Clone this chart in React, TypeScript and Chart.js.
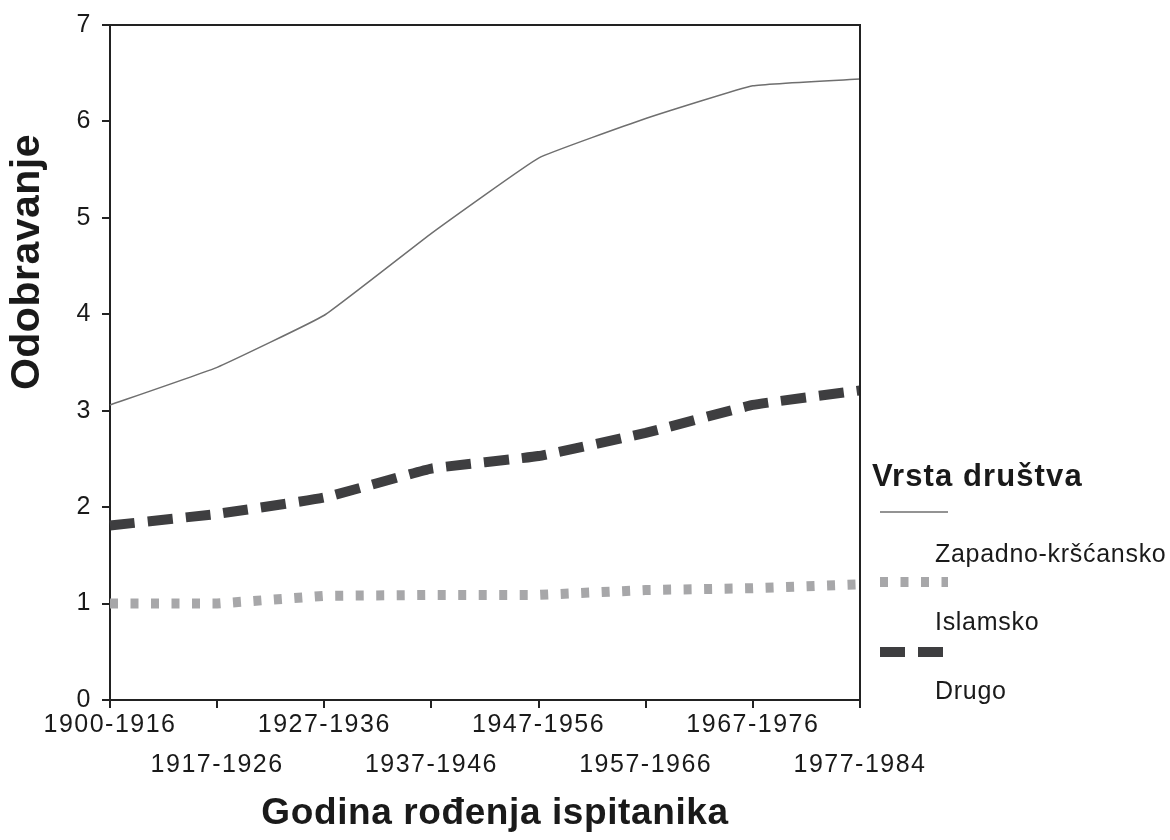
import React, { useEffect, useRef } from "react";
import { Chart, registerables } from "chart.js";

Chart.register(...registerables);

const categories = [
  "1900-1916",
  "1917-1926",
  "1927-1936",
  "1937-1946",
  "1947-1956",
  "1957-1966",
  "1967-1976",
  "1977-1984",
];

const zapadnoValues = [3.06, 3.45, 3.99, 4.84, 5.62, 6.03, 6.37, 6.44];
const drugoValues = [1.81, 1.93, 2.1, 2.4, 2.53, 2.77, 3.06, 3.21];
const islamskoValues = [1.0, 1.0, 1.08, 1.09, 1.09, 1.14, 1.16, 1.2];

const yTicks = [0, 1, 2, 3, 4, 5, 6, 7];

const legendTitle = "Vrsta društva";
const legendLabels = ["Zapadno-kršćansko", "Islamsko", "Drugo"];
const xTitle = "Godina rođenja ispitanika";
const yTitle = "Odobravanje";

const FONT = "'Liberation Sans', Arial, Helvetica, sans-serif";

const THIN = { color: "#6f6f6f", width: 1.5, dash: [] as number[] };
const DOTS = { color: "#a7a7a9", width: 10, dash: [8, 12.5] };
const DASH = { color: "#3e3e40", width: 10, dash: [25, 13] };

const spacingPlugin = {
  id: "spacing",
  beforeUpdate(chart: any) {
    (chart.ctx as any).letterSpacing = "1.5px";
  },
  beforeDraw(chart: any) {
    (chart.ctx as any).letterSpacing = "1.5px";
  },
};

const decorPlugin = {
  id: "decor",
  afterDraw(chart: any) {
    const ctx = chart.ctx as any;
    const a = chart.chartArea;
    ctx.save();
    ctx.strokeStyle = "#222";
    ctx.lineWidth = 2;
    ctx.setLineDash([]);
    ctx.beginPath();
    ctx.moveTo(a.left, a.top);
    ctx.lineTo(a.right, a.top);
    ctx.lineTo(a.right, a.bottom);
    ctx.stroke();

    ctx.fillStyle = "#1a1a1a";
    ctx.textAlign = "center";
    ctx.textBaseline = "middle";
    ctx.letterSpacing = "0.6px";
    ctx.font = `bold 37px ${FONT}`;
    ctx.fillText(xTitle, 495, 814);
    ctx.save();
    ctx.translate(28, 262);
    ctx.rotate(-Math.PI / 2);
    ctx.letterSpacing = "0.5px";
    ctx.font = `bold 41px ${FONT}`;
    ctx.fillText(yTitle, 0, 0);
    ctx.restore();

    ctx.textAlign = "left";
    ctx.letterSpacing = "1.1px";
    ctx.font = `bold 31px ${FONT}`;
    ctx.fillText(legendTitle, 872, 477);

    const samples = [
      { s: THIN, y: 512 },
      { s: DOTS, y: 582 },
      { s: DASH, y: 652 },
    ];
    samples.forEach(({ s, y }) => {
      ctx.beginPath();
      ctx.strokeStyle = s.color;
      ctx.lineWidth = s.width;
      ctx.setLineDash(s.dash);
      ctx.lineCap = "butt";
      ctx.moveTo(880, y);
      ctx.lineTo(948, y);
      ctx.stroke();
    });
    ctx.setLineDash([]);
    ctx.letterSpacing = "0.7px";
    ctx.font = `25px ${FONT}`;
    ctx.fillStyle = "#1a1a1a";
    const labelYs = [555, 623, 692];
    legendLabels.forEach((l, i) => ctx.fillText(l, 935, labelYs[i]));
    ctx.restore();
  },
};

export default function App() {
  const ref = useRef<HTMLCanvasElement | null>(null);

  useEffect(() => {
    document.body.style.margin = "0";
    const canvas = ref.current;
    if (!canvas) return;
    const chart = new Chart(canvas, {
      type: "line",
      data: {
        labels: categories,
        datasets: [
          {
            label: legendLabels[0],
            data: zapadnoValues,
            borderColor: THIN.color,
            borderWidth: THIN.width,
            pointRadius: 0,
            tension: 0.1,
          },
          {
            label: legendLabels[2],
            data: drugoValues,
            borderColor: DASH.color,
            borderWidth: DASH.width,
            borderDash: DASH.dash,
            borderCapStyle: "butt",
            pointRadius: 0,
            tension: 0.1,
          },
          {
            label: legendLabels[1],
            data: islamskoValues,
            borderColor: DOTS.color,
            borderWidth: DOTS.width,
            borderDash: DOTS.dash,
            borderCapStyle: "butt",
            pointRadius: 0,
            tension: 0,
          },
        ],
      },
      options: {
        responsive: false,
        animation: false,
        layout: { padding: { left: 0, top: 22, right: 310, bottom: 0 } },
        plugins: {
          legend: { display: false },
          tooltip: { enabled: false },
        },
        scales: {
          x: {
            type: "category",
            offset: false,
            afterFit: (s: any) => {
              s.height = 140;
            },
            border: { display: true, color: "#222", width: 2 },
            grid: {
              display: true,
              drawOnChartArea: false,
              drawTicks: true,
              tickLength: 8,
              color: "#222",
              lineWidth: 2,
            },
            ticks: {
              autoSkip: false,
              maxRotation: 0,
              minRotation: 0,
              padding: -3,
              color: "#1a1a1a",
              font: { family: FONT, size: 25, lineHeight: 1.6 },
              callback: (_v: any, i: number) =>
                i % 2 === 0 ? [categories[i], ""] : ["", categories[i]],
            },
          },
          y: {
            min: yTicks[0],
            max: yTicks[yTicks.length - 1],
            afterFit: (s: any) => {
              s.width = 110;
            },
            afterBuildTicks: (s: any) => {
              s.ticks = yTicks.map((v) => ({ value: v }));
            },
            border: { display: true, color: "#222", width: 2 },
            grid: {
              display: true,
              drawOnChartArea: false,
              drawTicks: true,
              tickLength: 8,
              color: "#222",
              lineWidth: 2,
            },
            ticks: {
              padding: 10,
              color: "#1a1a1a",
              font: { family: FONT, size: 25 },
            },
          },
        },
      },
      plugins: [spacingPlugin, decorPlugin],
    } as any);
    return () => chart.destroy();
  }, []);

  return (
    <div style={{ width: 1170, height: 840, background: "#fff" }}>
      <canvas ref={ref} width={1170} height={840} style={{ display: "block" }} />
    </div>
  );
}
